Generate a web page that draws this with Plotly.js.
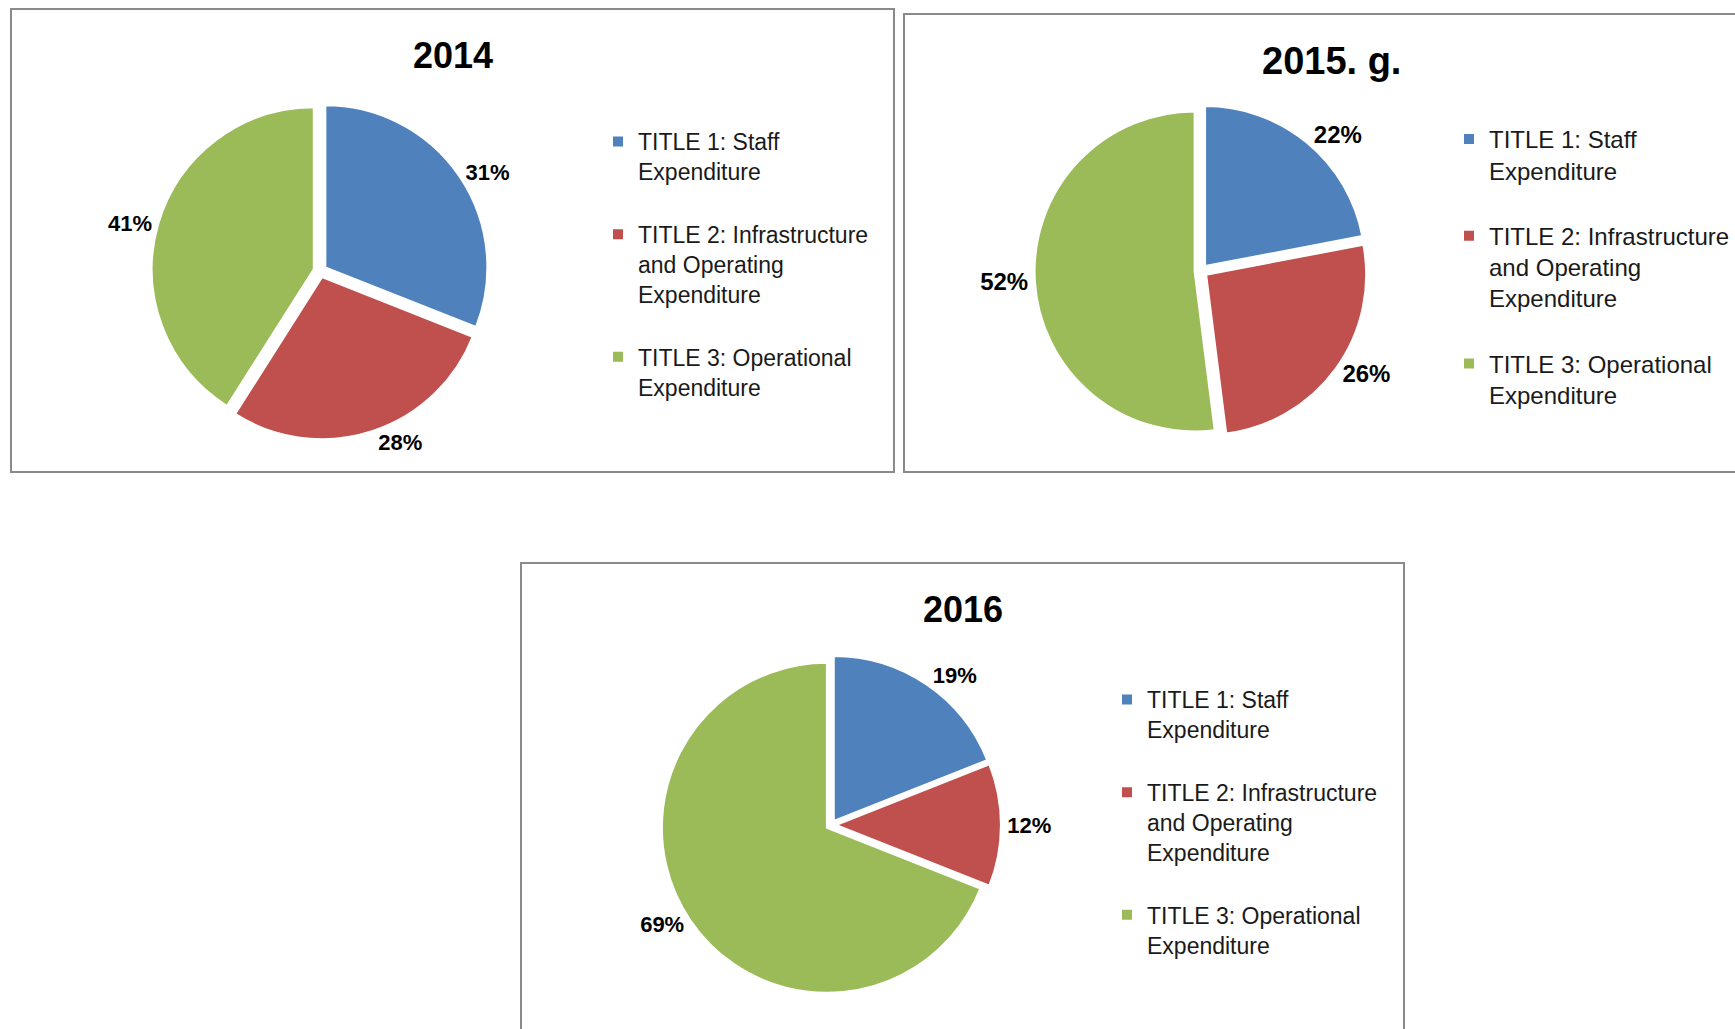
<!DOCTYPE html>
<html>
<head>
<meta charset="utf-8">
<script src="https://cdn.plot.ly/plotly-3.0.1.min.js"></script>
<style>html,body{margin:0;padding:0;background:#fff;} #chart{width:1735px;height:1029px;}</style>
</head>
<body>
<div id="chart"></div>
<script>
// ---- data ----
const categories = [
  "TITLE 1: Staff<br>Expenditure",
  "TITLE 2: Infrastructure<br>and Operating<br>Expenditure",
  "TITLE 3: Operational<br>Expenditure"
];
const years = ["2014", "2015. g.", "2016"];
const values2014 = [31, 28, 41];
const values2015 = [22, 26, 52];
const values2016 = [19, 12, 69];
const colors = ["#4F81BD", "#C0504D", "#9BBB59"];

const W = 1735, H = 1029;
const px = x => x / W;
const py = y => 1 - y / H;
const FONT = "Liberation Sans, Arial, sans-serif";

// legend labels: one blank spacer line after items 1 and 2 (Excel spreads its legend entries),
// plus invisible zero-width suffix so each pie keeps its own legend entries
function legendLabels(idx) {
  const zw = "\u200B".repeat(idx);
  return categories.map((c, i) => (i < 2 ? c + "<br> " : c) + zw);
}

function pieTrace(vals, idx, dom, legendId, textSize, pull) {
  return {
    type: "pie",
    labels: legendLabels(idx),
    values: vals,
    sort: false,
    direction: "clockwise",
    rotation: 0,
    pull: pull,
    marker: {colors: colors, line: {color: "#ffffff", width: 2}},
    textposition: "outside",
    texttemplate: "%{value}%",
    textfont: {family: FONT, size: textSize, color: "#000", weight: "bold"},
    domain: dom,
    legend: legendId,
    hoverinfo: "value"
  };
}

function domainFor(cx, cy, r, pull) {
  const half = r * (1 + pull);
  return {x: [px(cx - half), px(cx + half)], y: [py(cy + half), py(cy - half)]};
}

const traces = [
  pieTrace(values2014, 0, domainFor(320, 271, 162, 0.04), "legend", 22, [0.04, 0.04, 0.04]),
  pieTrace(values2015, 1, domainFor(1201, 271, 160, 0.04), "legend2", 24, [0.04, 0.04, 0.04]),
  pieTrace(values2016, 2, domainFor(831, 825, 165, 0.03), "legend3", 22, [0.03, 0.03, 0.03])
];

const legendFont = {family: FONT, size: 23, color: "#1a1a1a"};
const legendBase = {xanchor: "left", yanchor: "top", bgcolor: "rgba(0,0,0,0)", traceorder: "normal", valign: "top"};

const layout = {
  width: W, height: H,
  margin: {l: 0, r: 0, t: 0, b: 0},
  paper_bgcolor: "#ffffff",
  showlegend: true,
  legend: Object.assign({}, legendBase, {x: px(598), y: py(120), font: legendFont}),
  legend2: Object.assign({}, legendBase, {x: px(1449), y: py(117), font: Object.assign({}, legendFont, {size: 24})}),
  legend3: Object.assign({}, legendBase, {x: px(1107), y: py(678), font: legendFont}),
  shapes: [
    {type: "rect", xref: "paper", yref: "paper", x0: px(11), x1: px(894), y0: py(9), y1: py(472), line: {color: "#8a8a8a", width: 2}},
    {type: "rect", xref: "paper", yref: "paper", x0: px(904), x1: px(1745), y0: py(14), y1: py(472), line: {color: "#8a8a8a", width: 2}},
    {type: "rect", xref: "paper", yref: "paper", x0: px(521), x1: px(1404), y0: py(563), y1: py(1040), line: {color: "#8a8a8a", width: 2}}
  ],
  annotations: [
    {text: "<b>" + years[0] + "</b>", xref: "paper", yref: "paper", x: px(453), y: py(55), xanchor: "center", yanchor: "middle", showarrow: false, font: {family: FONT, size: 36, color: "#000"}},
    {text: "<b>" + years[1] + "</b>", xref: "paper", yref: "paper", x: px(1331), y: py(61), xanchor: "center", yanchor: "middle", showarrow: false, font: {family: FONT, size: 38, color: "#000"}},
    {text: "<b>" + years[2] + "</b>", xref: "paper", yref: "paper", x: px(963), y: py(609), xanchor: "center", yanchor: "middle", showarrow: false, font: {family: FONT, size: 36, color: "#000"}}
  ]
};

Plotly.newPlot("chart", traces, layout, {displayModeBar: false, responsive: false});
</script>
</body>
</html>
